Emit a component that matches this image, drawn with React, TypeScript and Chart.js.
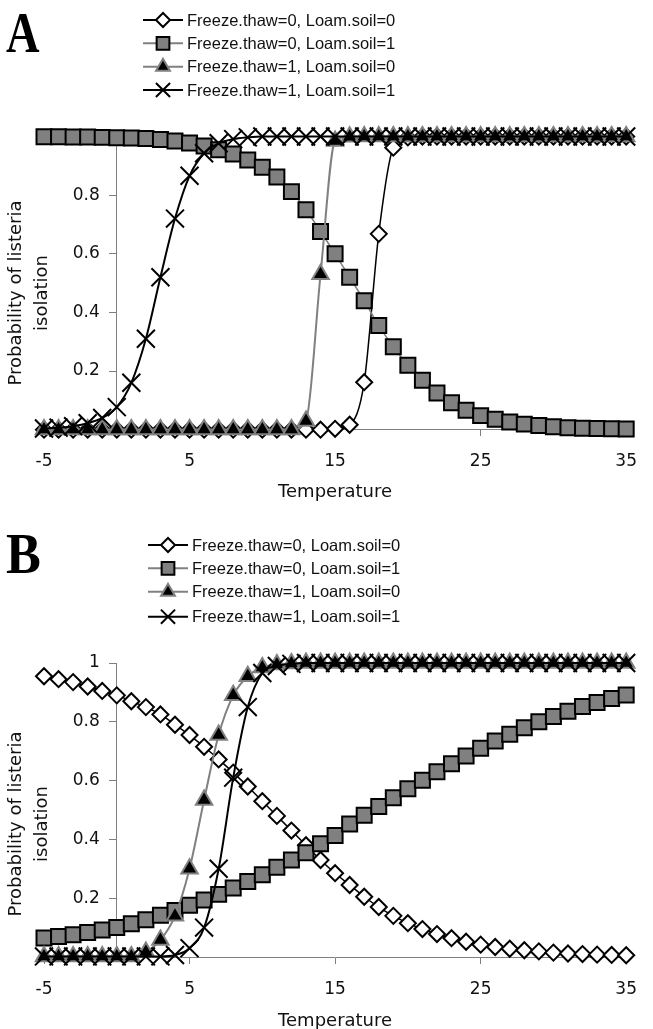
import React, { useEffect, useRef } from 'react';
import { Chart, registerables } from 'chart.js';
import { drawPoint } from 'chart.js/helpers';

Chart.register(...registerables);

// ---------- data ----------
const temperatures = [
  -5, -4, -3, -2, -1, 0, 1, 2, 3, 4, 5, 6, 7, 8, 9, 10, 11, 12, 13, 14, 15,
  16, 17, 18, 19, 20, 21, 22, 23, 24, 25, 26, 27, 28, 29, 30, 31, 32, 33, 34, 35,
];

const legendLabels = [
  'Freeze.thaw=0, Loam.soil=0',
  'Freeze.thaw=0, Loam.soil=1',
  'Freeze.thaw=1, Loam.soil=0',
  'Freeze.thaw=1, Loam.soil=1',
];

const xTickValues = [-5, 5, 15, 25, 35];
const yTickValues = [0, 0.2, 0.4, 0.6, 0.8, 1];
const yTickLabelsA = ['', '0.2', '0.4', '0.6', '0.8', ''];
const yTickLabelsB = ['', '0.2', '0.4', '0.6', '0.8', '1'];
const xTitle = 'Temperature';
const yTitleLines = ['Probability of listeria', 'isolation'];

// Panel A
const aFt0Ls0 = [
  0, 0, 0, 0, 0, 0, 0, 0, 0, 0, 0, 0, 0, 0, 0, 0, 0, 0, 0, 0,
  0.003, 0.017, 0.162, 0.668, 0.962, 0.997,
  1, 1, 1, 1, 1, 1, 1, 1, 1, 1, 1, 1, 1, 1, 1,
];
const aFt0Ls1 = [
  0.999, 0.999, 0.998, 0.998, 0.997, 0.996, 0.995, 0.993, 0.99, 0.985,
  0.978, 0.968, 0.955, 0.94, 0.92, 0.895, 0.862, 0.812, 0.75, 0.676,
  0.6, 0.52, 0.44, 0.355, 0.283, 0.22, 0.169, 0.125, 0.092, 0.066,
  0.048, 0.036, 0.026, 0.019, 0.014, 0.01, 0.007, 0.005, 0.004, 0.003, 0.002,
];
const aFt1Ls0 = [
  0.001, 0.001, 0.001, 0.001, 0.001, 0.001, 0.001, 0.001, 0.001, 0.001,
  0.001, 0.001, 0.001, 0.001, 0.001, 0.001, 0.001, 0.001,
  0.03, 0.53, 0.985, 0.999,
  1, 1, 1, 1, 1, 1, 1, 1, 1, 1, 1, 1, 1, 1, 1, 1, 1, 1, 1,
];
const aFt1Ls1 = [
  0.004, 0.007, 0.012, 0.022, 0.04, 0.077, 0.16, 0.31, 0.52, 0.72,
  0.866, 0.943, 0.977, 0.991, 0.997,
  1, 1, 1, 1, 1, 1, 1, 1, 1, 1, 1, 1, 1, 1, 1, 1, 1, 1, 1, 1, 1, 1, 1, 1, 1, 1,
];

// Panel B
const bFt0Ls0 = [
  0.955, 0.945, 0.935, 0.92, 0.905, 0.89, 0.87, 0.85, 0.825, 0.79,
  0.755, 0.715, 0.672, 0.627, 0.58, 0.53, 0.48, 0.43, 0.38, 0.33,
  0.285, 0.245, 0.205, 0.17, 0.14, 0.115, 0.095, 0.078, 0.064, 0.052,
  0.042, 0.034, 0.028, 0.023, 0.019, 0.015, 0.012, 0.01, 0.008, 0.007, 0.006,
];
const bFt0Ls1 = [
  0.065, 0.07, 0.076, 0.083, 0.092, 0.1, 0.113, 0.127, 0.142, 0.158,
  0.176, 0.194, 0.213, 0.235, 0.257, 0.28, 0.305, 0.33, 0.355, 0.385,
  0.413, 0.452, 0.482, 0.512, 0.542, 0.572, 0.601, 0.63, 0.657, 0.684,
  0.71, 0.735, 0.758, 0.78, 0.8, 0.818, 0.836, 0.852, 0.866, 0.879, 0.891,
];
const bFt1Ls0 = [
  0.002, 0.002, 0.002, 0.002, 0.002, 0.002, 0.002,
  0.017, 0.058, 0.14, 0.3, 0.534, 0.755, 0.89, 0.955, 0.985, 0.995, 0.998,
  1, 1, 1, 1, 1, 1, 1, 1, 1, 1, 1, 1, 1, 1, 1, 1, 1, 1, 1, 1, 1, 1, 1,
];
const bFt1Ls1 = [
  0.002, 0.002, 0.002, 0.002, 0.002, 0.002, 0.002, 0.002, 0.002,
  0.007, 0.03, 0.1, 0.3, 0.61, 0.85, 0.966, 0.99, 0.997,
  1, 1, 1, 1, 1, 1, 1, 1, 1, 1, 1, 1, 1, 1, 1, 1, 1, 1, 1, 1, 1, 1, 1,
];

// ---------- styles ----------
const GRAY = '#808080';
const seriesStyles = [
  { pointStyle: 'rectRot', radius: 8, fill: '#ffffff', stroke: '#000000', line: '#000000', lineWidth: 1.5, pbw: 2, legendRadius: 7 },
  { pointStyle: 'rect', radius: 10.6, fill: GRAY, stroke: '#000000', line: GRAY, lineWidth: 1.5, pbw: 2, legendRadius: 9 },
  { pointStyle: 'triangle', radius: 9.5, fill: '#000000', stroke: GRAY, line: GRAY, lineWidth: 2, pbw: 2, legendRadius: 8 },
  { pointStyle: 'crossRot', radius: 12.7, fill: '#000000', stroke: '#000000', line: '#000000', lineWidth: 2, pbw: 2, legendRadius: 10 },
];

const AXIS_FONT = '"DejaVu Sans", sans-serif';
const LEGEND_FONT = '"Liberation Sans", Arial, sans-serif';
const Y_LABEL_SHIFT = 17;

type PanelCfg = {
  letter: string;
  letterScaleX: number;
  series: number[][];
  yLabels: string[];
  height: number;
  padding: { left: number; right: number; top: number; bottom: number };
  letterBaseline: number;
  legendY: number[];
  legendX: number;
  yTitleCenterY: number;
  xTitleBaseline: number;
};

const panelA: PanelCfg = {
  letter: 'A',
  letterScaleX: 0.8,
  series: [aFt0Ls0, aFt0Ls1, aFt1Ls0, aFt1Ls1],
  yLabels: yTickLabelsA,
  height: 510,
  padding: { left: 44, right: 15, top: 136.5, bottom: 80.3 },
  letterBaseline: 52,
  legendY: [20, 43.3, 66.7, 90],
  legendX: 143,
  yTitleCenterY: 293,
  xTitleBaseline: 497,
};

const panelB: PanelCfg = {
  letter: 'B',
  letterScaleX: 0.9,
  series: [bFt0Ls0, bFt0Ls1, bFt1Ls0, bFt1Ls1],
  yLabels: yTickLabelsB,
  height: 519,
  padding: { left: 44, right: 15, top: 153, bottom: 72 },
  letterBaseline: 63,
  legendY: [35, 58.3, 81.7, 106.7],
  legendX: 148,
  yTitleCenterY: 314,
  xTitleBaseline: 516,
};

function Panel({ cfg, top }: { cfg: PanelCfg; top: number }) {
  const ref = useRef<HTMLCanvasElement | null>(null);

  useEffect(() => {
    const canvas = ref.current;
    if (!canvas) return;

    const decor = {
      id: 'decor',
      beforeDraw(chart: any) {
        // move y tick labels away from the axis line (axis crosses at x = 0)
        const ys = chart.scales.y;
        const items = ys.getLabelItems(chart.chartArea);
        items.forEach((it: any) => {
          if (!it._shifted) {
            it.options.translation[0] -= Y_LABEL_SHIFT;
            it._shifted = true;
          }
        });
      },
      afterDraw(chart: any) {
        const ctx: CanvasRenderingContext2D = chart.ctx;
        const ca = chart.chartArea;
        ctx.save();
        // panel letter
        ctx.save();
        ctx.fillStyle = '#000';
        ctx.font = 'bold 58px "Liberation Serif", "Times New Roman", serif';
        ctx.textAlign = 'left';
        ctx.textBaseline = 'alphabetic';
        ctx.translate(6, cfg.letterBaseline);
        ctx.scale(cfg.letterScaleX, 1);
        ctx.fillText(cfg.letter, 0, 0);
        ctx.restore();

        // legend
        legendLabels.forEach((lab, i) => {
          const st = seriesStyles[i];
          const y = cfg.legendY[i];
          const x0 = cfg.legendX;
          ctx.beginPath();
          ctx.strokeStyle = st.line;
          ctx.lineWidth = 2;
          ctx.moveTo(x0, y);
          ctx.lineTo(x0 + 40, y);
          ctx.stroke();
          ctx.fillStyle = st.fill;
          ctx.strokeStyle = st.stroke;
          ctx.lineWidth = st.pbw;
          drawPoint(ctx, { pointStyle: st.pointStyle as any, rotation: 0, radius: st.legendRadius, borderWidth: st.pbw }, x0 + 20, y);
          ctx.fillStyle = '#111';
          ctx.font = '16.5px ' + LEGEND_FONT;
          ctx.textAlign = 'left';
          ctx.textBaseline = 'middle';
          ctx.fillText(lab, x0 + 44, y + 1);
        });

        // y title
        ctx.save();
        ctx.fillStyle = '#111';
        ctx.font = '18px ' + AXIS_FONT;
        ctx.translate(16, cfg.yTitleCenterY);
        ctx.rotate(-Math.PI / 2);
        ctx.textAlign = 'center';
        ctx.textBaseline = 'middle';
        ctx.fillText(yTitleLines[0], 0, 0);
        ctx.fillText(yTitleLines[1], 0, 26);
        ctx.restore();

        // x title
        ctx.fillStyle = '#111';
        ctx.font = '18px ' + AXIS_FONT;
        ctx.textAlign = 'center';
        ctx.textBaseline = 'alphabetic';
        ctx.fillText(xTitle, (ca.left + ca.right) / 2, cfg.xTitleBaseline);
        ctx.restore();
      },
    };

    const datasets = cfg.series.map((vals, i) => {
      const st = seriesStyles[i];
      return {
        label: legendLabels[i],
        data: temperatures.map((t, j) => ({ x: t, y: vals[j] })),
        borderColor: st.line,
        borderWidth: st.lineWidth,
        backgroundColor: st.fill,
        pointStyle: st.pointStyle,
        pointRadius: st.radius,
        pointBackgroundColor: st.fill,
        pointBorderColor: st.stroke,
        pointBorderWidth: st.pbw,
        cubicInterpolationMode: 'monotone',
        fill: false,
        clip: false,
        order: 3 - i,
      };
    });

    const chart = new Chart(canvas, {
      type: 'line',
      data: { datasets } as any,
      options: {
        animation: false,
        responsive: false,
        events: [],
        layout: { padding: cfg.padding },
        plugins: { legend: { display: false }, tooltip: { enabled: false }, title: { display: false } },
        scales: {
          x: {
            type: 'linear',
            min: -5,
            max: 35,
            position: { y: 0 } as any,
            afterBuildTicks: (scale: any) => {
              scale.ticks = xTickValues.map((v) => ({ value: v }));
            },
            ticks: {
              color: '#111',
              font: { family: AXIS_FONT, size: 17 },
              padding: 16,
              maxRotation: 0,
              autoSkip: false,
              callback: (v: any) => String(v),
            },
            grid: { drawOnChartArea: false, drawTicks: true, tickLength: 6, color: GRAY, lineWidth: 1 },
            border: { display: true, color: GRAY, width: 1 },
          },
          y: {
            type: 'linear',
            min: 0,
            max: 1,
            position: { x: 0 } as any,
            afterBuildTicks: (scale: any) => {
              scale.ticks = yTickValues.map((v) => ({ value: v }));
            },
            ticks: {
              color: '#111',
              font: { family: AXIS_FONT, size: 17 },
              padding: 13,
              autoSkip: false,
              callback: (_v: any, idx: number) => cfg.yLabels[idx],
            },
            grid: { drawOnChartArea: false, drawTicks: true, tickLength: 7, color: GRAY, lineWidth: 1 },
            border: { display: true, color: GRAY, width: 1 },
          },
        },
      },
      plugins: [decor],
    } as any);

    return () => chart.destroy();
  }, [cfg]);

  return (
    <canvas
      ref={ref}
      width={653}
      height={cfg.height}
      style={{ position: 'absolute', left: 0, top, width: 653, height: cfg.height, display: 'block' }}
    />
  );
}

export default function App() {
  return (
    <div style={{ position: 'absolute', left: 0, top: 0, width: 653, height: 1029, background: '#fff', overflow: 'hidden' }}>
      <Panel cfg={panelA} top={0} />
      <Panel cfg={panelB} top={510} />
    </div>
  );
}
